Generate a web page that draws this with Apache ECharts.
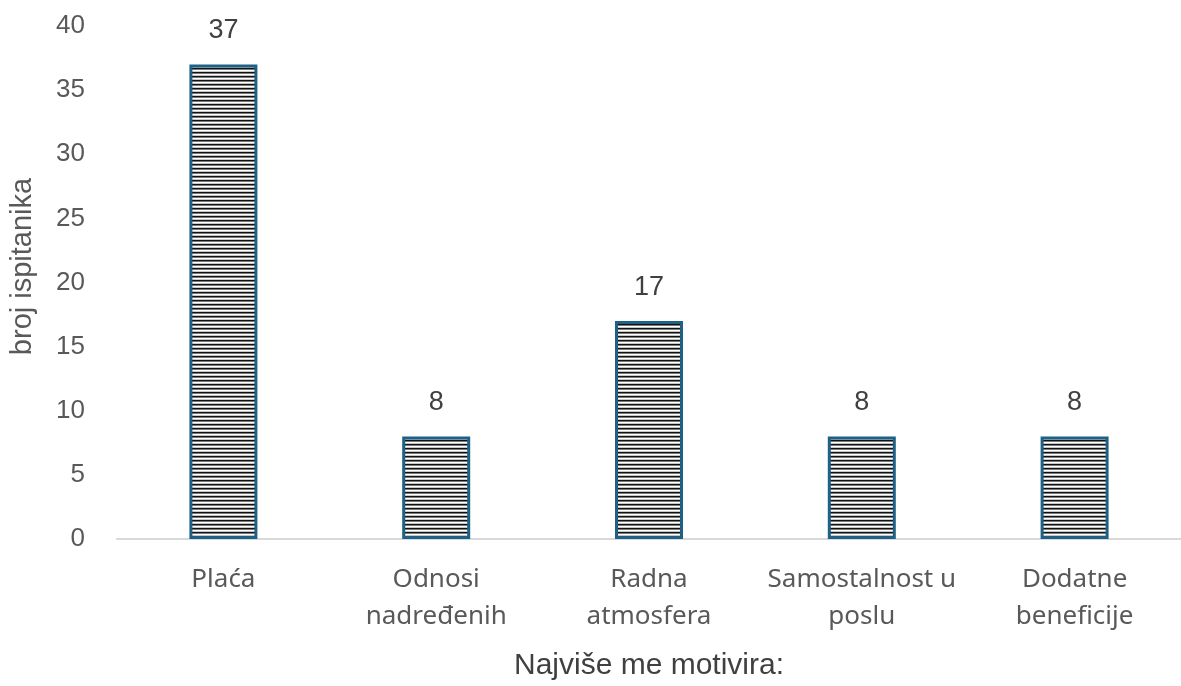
<!DOCTYPE html>
<html>
<head>
<meta charset="utf-8">
<script src="https://cdn.jsdelivr.net/npm/echarts@6/dist/echarts.min.js"></script>
<style>
  html, body { margin: 0; padding: 0; background: #fff; }
  #chart { width: 1181px; height: 686px; }
</style>
</head>
<body>
<div id="chart"></div>
<script>
var categories = ["Plaća", "Odnosi\nnadređenih", "Radna\natmosfera", "Samostalnost u\nposlu", "Dodatne\nbeneficije"];
var values = [37, 8, 17, 8, 8];
var yTicks = { min: 0, max: 40, interval: 5 };

// horizontal stripe fill for the bars
function stripes() {
  var c = document.createElement("canvas");
  c.width = 4;
  c.height = 4;
  var ctx = c.getContext("2d");
  var rows = ["#111111", "#7a7a7a", "#ffffff", "#c8c8c8"];
  for (var i = 0; i < rows.length; i++) {
    ctx.fillStyle = rows[i];
    ctx.fillRect(0, i, 4, 1);
  }
  return c;
}

var myChart = echarts.init(document.getElementById("chart"));
myChart.setOption({
  animation: false,
  grid: { left: 117, right: -9, top: 26, bottom: 145, containLabel: false },
  xAxis: {
    type: "category",
    data: categories,
    name: "Najviše me motivira:",
    nameLocation: "middle",
    nameGap: 112,
    nameTextStyle: { color: "#404040", fontSize: 30, fontFamily: "Liberation Sans" },
    axisLine: { show: true, lineStyle: { color: "#d9d9d9", width: 2 } },
    axisTick: { show: false },
    axisLabel: {
      color: "#595959",
      fontSize: 26,
      fontFamily: "Noto Sans",
      lineHeight: 37,
      margin: 22,
      interval: 0
    }
  },
  yAxis: {
    type: "value",
    min: yTicks.min,
    max: yTicks.max,
    interval: yTicks.interval,
    name: "broj ispitanika",
    nameLocation: "middle",
    nameGap: 80,
    nameTextStyle: {
      color: "#595959",
      fontSize: 29,
      fontFamily: "Liberation Sans",
      padding: [0, 0, 0, 32]
    },
    axisLine: { show: false },
    axisTick: { show: false },
    splitLine: { show: false },
    axisLabel: { color: "#595959", fontSize: 26, fontFamily: "Liberation Sans", margin: 32 }
  },
  series: [
    {
      type: "bar",
      data: values,
      barWidth: 68,
      itemStyle: {
        color: { image: stripes(), repeat: "repeat" },
        borderColor: "#1f6087",
        borderWidth: 3
      },
      label: {
        show: true,
        position: "top",
        distance: 20,
        color: "#404040",
        fontSize: 27,
        fontFamily: "Liberation Sans"
      }
    }
  ]
});
</script>
</body>
</html>
